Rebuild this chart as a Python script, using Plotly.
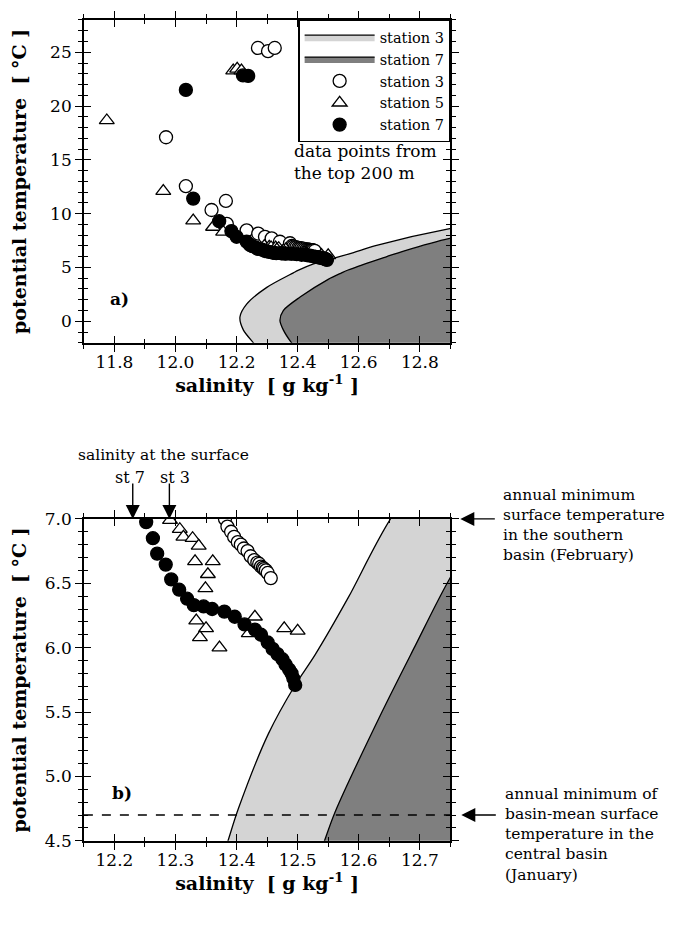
import plotly.graph_objects as go

FONT = "DejaVu Serif"

# ---- boundary curves of the shaded regions (salinity vs potential temperature)
st3_bound_T = [-2.5, -2.0, -0.8, 0.4, 1.6, 3.15, 4.5, 4.75, 5.33, 5.71, 5.94, 6.39, 7.0, 8.6, 9.9]
st3_bound_S = [12.27, 12.255, 12.222, 12.211, 12.233, 12.299, 12.386, 12.403, 12.452, 12.496, 12.528,
               12.583, 12.652, 12.898, 13.2]
st7_bound_T = [-2.5, -2.0, -0.8, 0.1, 1.0, 2.25, 3.9, 4.5, 4.72, 5.5, 6.01, 6.52, 7.7, 9.2]
st7_bound_S = [12.395, 12.38, 12.353, 12.342, 12.353, 12.408, 12.50, 12.544, 12.561, 12.638, 12.692,
               12.747, 12.898, 13.2]

# ---- data points from the top 200 m
st3_S = [12.270, 12.303, 12.325, 11.969, 12.034, 12.165, 12.118, 12.168, 12.233, 12.271, 12.293, 12.315,
         12.342, 12.375, 12.381, 12.385, 12.391, 12.396, 12.402, 12.407, 12.412, 12.418, 12.423, 12.429,
         12.434, 12.437, 12.440, 12.443, 12.445, 12.448, 12.451, 12.456]
st3_T = [25.4, 25.1, 25.4, 17.1, 12.55, 11.18, 10.34, 9.06, 8.45, 8.15, 7.85, 7.70,
         7.39, 7.25, 7.00, 6.94, 6.90, 6.86, 6.82, 6.80, 6.77, 6.75, 6.71, 6.68,
         6.66, 6.65, 6.63, 6.62, 6.61, 6.60, 6.58, 6.54]

st5_S = [11.775, 11.960, 12.058, 12.123, 12.156, 12.189, 12.202, 12.216, 12.291, 12.307, 12.313, 12.328,
         12.338, 12.332, 12.361, 12.353, 12.349, 12.334, 12.350, 12.340, 12.372, 12.430, 12.420, 12.478,
         12.500]
st5_T = [18.66, 12.09, 9.36, 8.76, 8.30, 23.3, 23.45, 23.3, 6.99, 6.92, 6.86, 6.85,
         6.79, 6.67, 6.67, 6.57, 6.46, 6.21, 6.15, 6.08, 6.00, 6.24, 6.11, 6.15,
         6.13]

st7_S = [12.034, 12.221, 12.238, 12.058, 12.143, 12.183, 12.200, 12.233, 12.244, 12.252, 12.263, 12.270,
         12.284, 12.293, 12.306, 12.319, 12.330, 12.346, 12.360, 12.380, 12.397, 12.413, 12.430, 12.440,
         12.451, 12.459, 12.467, 12.475, 12.480, 12.486, 12.490, 12.493, 12.496]
st7_T = [21.5, 22.85, 22.8, 11.4, 9.3, 8.38, 7.85, 7.39, 7.09, 6.975, 6.85, 6.73,
         6.645, 6.53, 6.45, 6.38, 6.33, 6.32, 6.30, 6.28, 6.24, 6.18, 6.14, 6.10,
         6.04, 5.99, 5.95, 5.91, 5.87, 5.83, 5.80, 5.76, 5.71]

# surface salinities (arrows in panel b) and reference temperatures
surface_sal = {"st 7": 12.23, "st 3": 12.29}
T_min_southern = 7.0
T_min_central = 4.7

# ---- layout geometry (page pixels -> figure fractions; page body has an 8 px margin)
OFF = 8
W, H = 674 - OFF, 930 - OFF


def fx(p):
    return (p - OFF) / W


def fy(p):
    return 1 - (p - OFF) / H


xdom = [fx(83), fx(450)]
ydom_a = [fy(340), fy(10)]
ydom_b = [fy(849), fy(520)]

fig = go.Figure()


def add_regions(xa, ya, legend):
    for name, S, T, col in [("station 3", st3_bound_S, st3_bound_T, "#d4d4d4"),
                            ("station 7", st7_bound_S, st7_bound_T, "#7f7f7f")]:
        fig.add_trace(go.Scatter(
            x=S + [S[-1]], y=T + [T[0]], mode="lines", fill="toself", fillcolor=col,
            line=dict(color="black", width=1.3, shape="spline", smoothing=0.8),
            name=name, showlegend=legend, xaxis=xa, yaxis=ya, hoverinfo="skip"))


def add_points(xa, ya, legend, clip):
    mk = dict(size=13, line=dict(color="black", width=1.3))
    fig.add_trace(go.Scatter(x=st3_S, y=st3_T, mode="markers", name="station 3",
                             marker=dict(symbol="circle", color="white", **mk),
                             showlegend=legend, xaxis=xa, yaxis=ya, cliponaxis=clip))
    fig.add_trace(go.Scatter(x=st5_S, y=st5_T, mode="markers", name="station 5",
                             marker=dict(symbol="triangle-up", color="white", **mk),
                             showlegend=legend, xaxis=xa, yaxis=ya, cliponaxis=clip))
    fig.add_trace(go.Scatter(x=st7_S, y=st7_T, mode="markers", name="station 7",
                             marker=dict(symbol="circle", color="black", **mk),
                             showlegend=legend, xaxis=xa, yaxis=ya, cliponaxis=clip))


add_regions("x", "y", True)
add_points("x", "y", True, False)
add_regions("x2", "y2", False)
add_points("x2", "y2", False, True)

# empty traces to create overlay subplots carrying the inner half of the crossing ticks
fig.add_trace(go.Scatter(x=[], y=[], xaxis="x3", yaxis="y3", showlegend=False))
fig.add_trace(go.Scatter(x=[], y=[], xaxis="x4", yaxis="y4", showlegend=False))

tickfont = dict(family=FONT, size=17, color="black")
titlefont = dict(family=FONT, size=19, color="black")


def main_axis(**kw):
    d = dict(showline=True, linecolor="black", linewidth=1.5, mirror="allticks",
             ticks="outside", ticklen=7, tickwidth=1.3, tickcolor="black",
             showgrid=False, zeroline=False, tickfont=tickfont)
    d.update(kw)
    return d


def inner_axis(**kw):
    d = dict(showline=False, mirror="allticks", ticks="inside", ticklen=7, tickwidth=1.3,
             tickcolor="black", showgrid=False, zeroline=False, showticklabels=False)
    d.update(kw)
    return d


xa_range = [11.7, 12.9]
ya_range = [-2, 28]
xb_range = [12.15, 12.75]
yb_range = [4.5, 7.0]

minor_out = lambda d: dict(dtick=d, ticklen=4, ticks="outside", tickcolor="black", tickwidth=1.2)
minor_in = lambda d: dict(dtick=d, ticklen=4, ticks="inside", tickcolor="black", tickwidth=1.2)

fig.update_layout(
    width=W, height=H, margin=dict(l=0, r=0, t=0, b=0),
    paper_bgcolor="white", plot_bgcolor="white",
    font=dict(family=FONT, color="black"),
    xaxis=main_axis(domain=xdom, range=xa_range, anchor="y", dtick=0.2, tick0=11.8, tickformat=".1f",
                    minor=minor_out(0.1), ticklabelstandoff=-4,
                    title=dict(text="<b>salinity  [ g kg<sup>-1</sup> ]</b>", font=titlefont, standoff=4)),
    yaxis=main_axis(domain=ydom_a, range=ya_range, anchor="x", dtick=5, tick0=0,
                    minor=minor_out(1),
                    title=dict(text="<b>potential temperature  [ °C ]</b>", font=titlefont, standoff=23)),
    xaxis2=main_axis(domain=xdom, range=xb_range, anchor="y2", dtick=0.1, tick0=12.2, tickformat=".1f",
                     minor=minor_out(0.05), ticklabelstandoff=-4,
                     title=dict(text="<b>salinity  [ g kg<sup>-1</sup> ]</b>", font=titlefont, standoff=4)),
    yaxis2=main_axis(domain=ydom_b, range=yb_range, anchor="x2", dtick=0.5, tick0=4.5, tickformat=".1f",
                     minor=minor_out(0.1),
                     title=dict(text="<b>potential temperature  [ °C ]</b>", font=titlefont, standoff=23)),
    xaxis3=inner_axis(overlaying="x", anchor="y", range=xa_range, dtick=0.2, tick0=11.8, minor=minor_in(0.1)),
    yaxis3=inner_axis(overlaying="y", anchor="x", range=ya_range, dtick=5, tick0=0, minor=minor_in(1)),
    xaxis4=inner_axis(overlaying="x2", anchor="y2", range=xb_range, dtick=0.1, tick0=12.2, minor=minor_in(0.05)),
    yaxis4=inner_axis(overlaying="y2", anchor="x2", range=yb_range, dtick=0.5, tick0=4.5, minor=minor_in(0.1)),
    legend=dict(x=xdom[1], y=ydom_a[1], xanchor="right", yanchor="top",
                bordercolor="black", borderwidth=1.3, bgcolor="white",
                font=dict(family=FONT, size=14.5, color="black"), itemwidth=70,
                tracegroupgap=0),
    showlegend=True,
)

# dashed line: annual minimum of basin-mean surface temperature
fig.add_shape(type="line", xref="x2 domain", yref="y2", x0=0, x1=1, y0=T_min_central, y1=T_min_central,
              line=dict(color="black", width=1.3, dash="dash"))

ann = []
txt = dict(family=FONT, size=17, color="black")
ctr = dict(xref="paper", yref="paper", xanchor="center", yanchor="middle", showarrow=False)
ann.append(dict(text="<b>a)</b>", x=fx(119), y=fy(295), font=txt, **ctr))
ann.append(dict(text="<b>b)</b>", x=fx(121), y=fy(800), font=txt, **ctr))
ann.append(dict(text="data points from<br>the top 200 m", x=fx(291), y=fy(155), xref="paper",
                yref="paper", xanchor="left", yanchor="middle", align="left", showarrow=False, font=txt))
ann.append(dict(text="salinity at the surface", x=fx(163), y=fy(455),
                font=dict(family=FONT, size=15.5, color="black"), **ctr))
for lbl, xs in [("st 7", 129), ("st 3", 174)]:
    ann.append(dict(text=lbl, x=fx(xs), y=fy(478), font=dict(family=FONT, size=16, color="black"), **ctr))
for lbl, s in surface_sal.items():
    ann.append(dict(text="", x=s, y=T_min_southern, xref="x2", yref="y2", showarrow=True,
                    ax=0, ay=-37, arrowhead=2, arrowsize=2, arrowwidth=1.4, arrowcolor="black",
                    standoff=0))
# right-hand arrows and texts
ann.append(dict(text="", x=fx(460), y=T_min_southern, xref="paper", yref="y2", showarrow=True,
                ax=36, ay=0, arrowhead=2, arrowsize=2, arrowwidth=1.4, arrowcolor="black", standoff=0))
ann.append(dict(text="annual minimum<br>surface temperature<br>in the southern<br>basin (February)",
                x=fx(501), y=fy(526), xref="paper", yref="paper", xanchor="left", yanchor="middle",
                align="left", showarrow=False, font=dict(family=FONT, size=15.5, color="black")))
ann.append(dict(text="", x=fx(461), y=T_min_central, xref="paper", yref="y2", showarrow=True,
                ax=36, ay=0, arrowhead=2, arrowsize=2, arrowwidth=1.4, arrowcolor="black", standoff=0))
ann.append(dict(text="annual minimum of<br>basin-mean surface<br>temperature in the<br>central basin<br>(January)",
                x=fx(503), y=fy(842.5), xref="paper", yref="paper", xanchor="left", yanchor="middle",
                align="left", showarrow=False, font=dict(family=FONT, size=15.5, color="black")))
fig.update_layout(annotations=ann)

fig.write_html("out.html")
